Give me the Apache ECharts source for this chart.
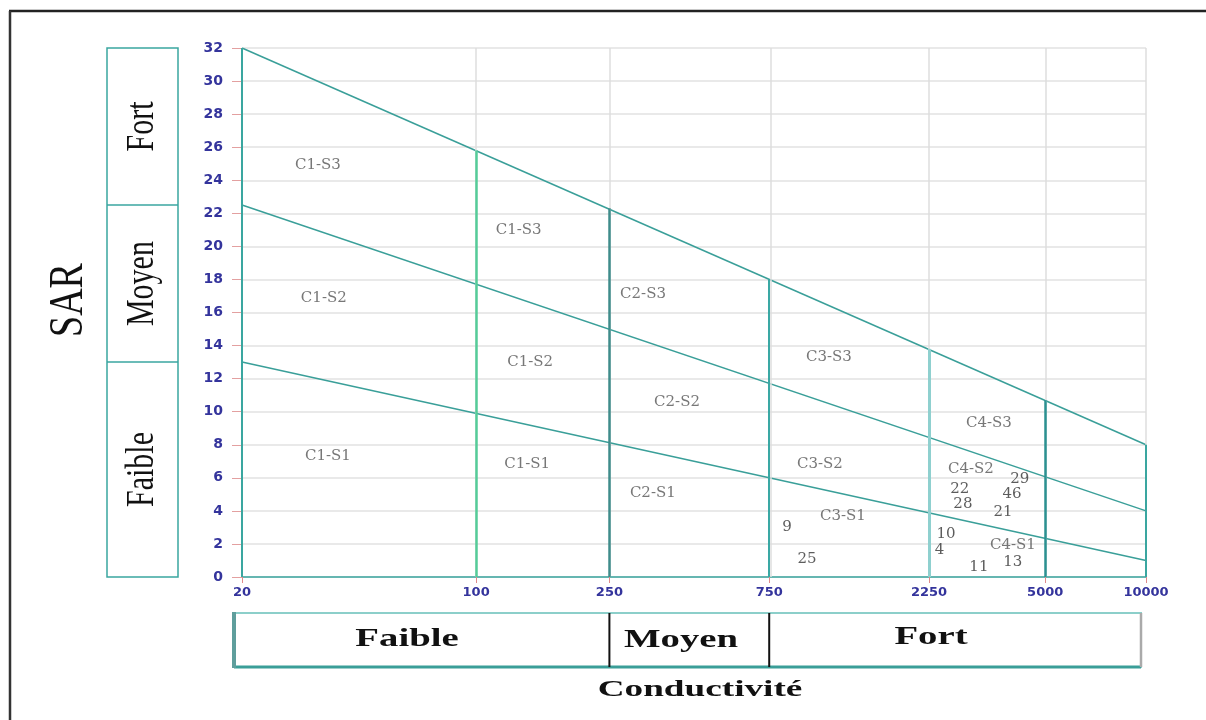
<!DOCTYPE html>
<html>
<head>
<meta charset="utf-8">
<title>Diagramme de Riverside</title>
<script src="https://cdn.jsdelivr.net/npm/echarts@6/dist/echarts.min.js"></script>
<style>
  html, body { margin: 0; padding: 0; background: #fff; }
  #riverside-chart { width: 1206px; height: 720px; }
</style>
</head>
<body>
<div id="riverside-chart"></div>
<script>
// conductivité (µS/cm) : graduations et séparations des classes C
const ecTicks = [20, 100, 250, 750, 2250, 5000, 10000];
const ecSplitTop = [32, 25.8, 22.3, 18.0, 13.8, 10.7, 8];

// droites limites du SAR, entre EC = 20 et EC = 10000
const lineEC = [20, 10000];
const sarS3 = [32, 8];
const sarS2 = [22.5, 4];
const sarS1 = [13, 1];

// noms des classes
const zoneNames = ['C1-S3', 'C1-S3', 'C1-S2', 'C2-S3', 'C1-S2', 'C3-S3', 'C2-S2', 'C4-S3',
  'C1-S1', 'C1-S1', 'C3-S2', 'C4-S2', 'C2-S1', 'C3-S1', 'C4-S1'];
const zoneEC = [33.7, 134, 35.1, 315, 145, 1131, 398, 3395, 36.1, 142, 1063, 3000, 337, 1245, 4004];
const zoneSAR = [24.9, 21.0, 16.9, 17.1, 13.0, 13.3, 10.6, 9.3, 7.3, 6.8, 6.8, 6.5, 5.1, 3.7, 1.9];

// échantillons
const sampleIds = ['29', '22', '46', '28', '21', '9', '10', '4', '25', '13', '11'];
const sampleEC = [4200, 2780, 3980, 2840, 3740, 847, 2530, 2420, 972, 4000, 3170];
const sampleSAR = [5.9, 5.3, 5.0, 4.4, 3.9, 3.0, 2.6, 1.6, 1.1, 0.9, 0.6];

const splitColors = ['#3aa6a0', '#55cc99', '#3f8c8b', '#3aa8a4', '#8fd0cf', '#2b9191', '#3aa6a0'];
const splitWidths = [2, 2.5, 2.5, 2, 3, 2.5, 2];

const lg = v => Math.log10(v);
const teal = '#3a9f99';

const chart = echarts.init(document.getElementById('riverside-chart'));

function limitLine(name, sar) {
  return {
    name: name,
    type: 'line',
    z: 4,
    silent: true,
    showSymbol: false,
    data: lineEC.map((e, i) => [lg(e), sar[i]]),
    lineStyle: { color: teal, width: 1.5 }
  };
}

const option = {
  animation: false,
  grid: { left: 242, right: 60, top: 48, bottom: 143 },
  xAxis: {
    type: 'value',
    min: lg(20),
    max: 4,
    axisLine: { show: true, lineStyle: { color: '#3aa59f', width: 1.5 } },
    axisTick: {
      show: true,
      customValues: ecTicks.map(lg),
      length: 6,
      lineStyle: { color: '#e08a8a' }
    },
    axisLabel: {
      customValues: ecTicks.map(lg),
      formatter: v => String(Math.round(Math.pow(10, v))),
      color: '#34349c',
      fontWeight: 'bold',
      fontFamily: 'DejaVu Sans',
      fontSize: 13,
      margin: 9
    },
    splitLine: { show: false }
  },
  yAxis: {
    type: 'value',
    min: 0,
    max: 32,
    interval: 2,
    axisLine: { show: false },
    axisTick: { show: true, length: 10, lineStyle: { color: '#e3a0a0' } },
    axisLabel: {
      color: '#34349c',
      fontWeight: 'bold',
      fontFamily: 'DejaVu Sans',
      fontSize: 14,
      margin: 19
    },
    splitLine: { lineStyle: { color: '#e2e2e2', width: 1.5 } }
  },
  series: [
    {
      name: 'grille',
      type: 'line',
      z: 1,
      silent: true,
      data: [],
      markLine: {
        silent: true,
        symbol: 'none',
        label: { show: false },
        lineStyle: { color: '#dedede', width: 1.5, type: 'solid' },
        data: ecTicks.slice(1).map(e => ({ xAxis: lg(e) }))
      }
    },
    limitLine('S3', sarS3),
    limitLine('S2', sarS2),
    limitLine('S1', sarS1),
    {
      name: 'classes',
      type: 'line',
      z: 3,
      silent: true,
      data: [],
      markLine: {
        silent: true,
        symbol: 'none',
        label: { show: false },
        data: ecTicks.map((e, i) => [
          { coord: [lg(e), 0], lineStyle: { color: splitColors[i], width: splitWidths[i], type: 'solid' } },
          { coord: [lg(e), ecSplitTop[i]] }
        ])
      }
    },
    {
      name: 'zones',
      type: 'scatter',
      z: 5,
      silent: true,
      symbolSize: 1,
      itemStyle: { color: 'rgba(0,0,0,0)' },
      data: zoneNames.map((n, i) => ({ name: n, value: [lg(zoneEC[i]), zoneSAR[i]] })),
      label: {
        show: true,
        position: 'inside',
        formatter: p => p.name,
        fontFamily: 'DejaVu Serif',
        fontSize: 15,
        color: '#555'
      }
    },
    {
      name: 'échantillons',
      type: 'scatter',
      z: 5,
      silent: true,
      symbolSize: 1,
      itemStyle: { color: 'rgba(0,0,0,0)' },
      data: sampleIds.map((n, i) => ({ name: n, value: [lg(sampleEC[i]), sampleSAR[i]] })),
      label: {
        show: true,
        position: 'inside',
        formatter: p => p.name,
        fontFamily: 'DejaVu Serif',
        fontSize: 15,
        color: '#333'
      }
    }
  ]
};

chart.setOption(option);

// cadres et libellés autour du graphique
const px = (x, y) => chart.convertToPixel({ gridIndex: 0 }, [x, y]);
const yTop = px(lg(20), 32)[1];
const yBottom = px(lg(20), 0)[1];
const yS2 = px(lg(20), sarS2[0])[1];
const yS1 = px(lg(20), sarS1[0])[1];
const x250 = px(lg(250), 0)[0];
const x750 = px(lg(750), 0)[0];

function txt(text, x, y, font, opts) {
  return Object.assign({
    type: 'text',
    x: x,
    y: y,
    silent: true,
    style: {
      text: text,
      font: font,
      fill: '#111',
      align: 'center',
      verticalAlign: 'middle',
      textAlign: 'center',
      textVerticalAlign: 'middle'
    }
  }, opts || {});
}

function seg(x1, y1, x2, y2, color, width) {
  return {
    type: 'line',
    silent: true,
    shape: { x1: x1, y1: y1, x2: x2, y2: y2 },
    style: { stroke: color, lineWidth: width }
  };
}

const boxL = 107, boxR = 178, boxMid = (boxL + boxR) / 2;
const barL = 234, barR = 1141, barT = 613, barB = 667;
const rotFont = '30px "Liberation Serif"';
const barFont = 'bold 25px "Liberation Serif"';

chart.setOption({
  graphic: [
    // cadre extérieur
    seg(9, 11, 1206, 11, '#222', 2.5),
    seg(10, 11, 10, 720, '#333', 2.5),
    // classes SAR à gauche
    {
      type: 'rect',
      silent: true,
      shape: { x: boxL, y: yTop, width: boxR - boxL, height: yBottom - yTop },
      style: { fill: 'none', stroke: '#3aa6a0', lineWidth: 1.5 }
    },
    seg(boxL, yS2, boxR, yS2, '#3aa6a0', 1.5),
    seg(boxL, yS1, boxR, yS1, '#3aa6a0', 1.5),
    txt('Fort', boxMid, (yTop + yS2) / 2, rotFont, { rotation: Math.PI / 2, scaleY: 1.35 }),
    txt('Moyen', boxMid, (yS2 + yS1) / 2, rotFont, { rotation: Math.PI / 2, scaleY: 1.35 }),
    txt('Faible', boxMid, (yS1 + yBottom) / 2, rotFont, { rotation: Math.PI / 2, scaleY: 1.35 }),
    txt('SAR', 69, 300, '38px "Liberation Serif"', { rotation: Math.PI / 2, scaleY: 1.3 }),
    // classes de conductivité en bas
    {
      type: 'rect',
      silent: true,
      shape: { x: barL, y: barT, width: barR - barL, height: barB - barT },
      style: { fill: 'none', stroke: '#8ccfca', lineWidth: 2 }
    },
    seg(barL, barB, barR, barB, '#3a9e98', 3),
    seg(barL, barT - 1, barL, barB + 1, '#5f9e9c', 4),
    seg(barR, barT, barR, barB, '#aaaaaa', 2.5),
    seg(x250, barT, x250, barB, '#111', 2),
    seg(x750, barT, x750, barB, '#111', 2),
    txt('Faible', 407, 640, barFont, { scaleX: 1.55 }),
    txt('Moyen', 681, 641, barFont, { scaleX: 1.55 }),
    txt('Fort', 931, 638, barFont, { scaleX: 1.55 }),
    txt('Conductivité', 700, 690, 'bold 24px "Liberation Serif"', { scaleX: 1.55 })
  ]
});
</script>
</body>
</html>
